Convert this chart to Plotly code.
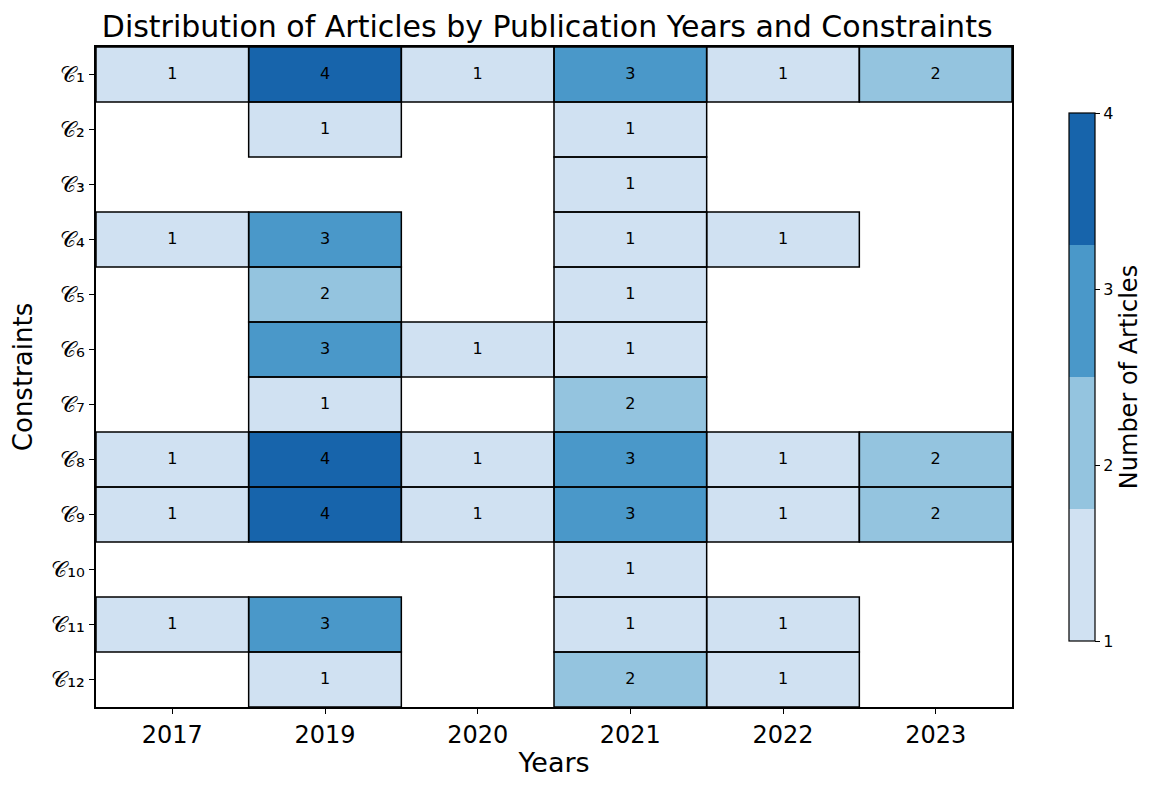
import plotly.graph_objects as go

years = ["2017", "2019", "2020", "2021", "2022", "2023"]
constraints = [f"C{i}" for i in range(1, 13)]
_sub = str.maketrans("0123456789", "₀₁₂₃₄₅₆₇₈₉")
constraint_labels = ["𝒞" + str(i).translate(_sub) for i in range(1, 13)]
counts = [
    [1, 4, 1, 3, 1, 2],
    [0, 1, 0, 1, 0, 0],
    [0, 0, 0, 1, 0, 0],
    [1, 3, 0, 1, 1, 0],
    [0, 2, 0, 1, 0, 0],
    [0, 3, 1, 1, 0, 0],
    [0, 1, 0, 2, 0, 0],
    [1, 4, 1, 3, 1, 2],
    [1, 4, 1, 3, 1, 2],
    [0, 0, 0, 1, 0, 0],
    [1, 3, 0, 1, 1, 0],
    [0, 1, 0, 2, 1, 0],
]
colors = ["#d0e1f2", "#94c4df", "#4a98c9", "#1764ab"]

z = [[v if v > 0 else None for v in row] for row in counts]

cs = []
n = len(colors)
for k, c in enumerate(colors):
    cs.append([k / n, c])
    cs.append([(k + 1) / n, c])

xi = list(range(len(years)))
yi = list(range(len(constraints)))

fig = go.Figure()
fig.add_trace(go.Heatmap(
    x=xi, y=yi, z=z,
    colorscale=cs, zmin=1, zmax=4, hoverongaps=False,
    colorbar=dict(
        x=1.051, xanchor="left", y=0.5, yanchor="middle", len=0.8, ypad=0,
        thickness=26, outlinecolor="black", outlinewidth=1.2,
        tickvals=[1, 2, 3, 4], ticks="outside", ticklen=5, tickcolor="black",
        tickfont=dict(size=16, color="black"),
        title=dict(text="Number of Articles", side="right",
                   font=dict(size=24, color="black")),
    ),
))

tx, ty, tt = [], [], []
shapes = []
for r, row in enumerate(counts):
    for c, v in enumerate(row):
        if v > 0:
            tx.append(c)
            ty.append(r)
            tt.append(str(v))
            shapes.append(dict(type="rect", xref="x", yref="y",
                               x0=c - 0.5, x1=c + 0.5, y0=r - 0.5, y1=r + 0.5,
                               line=dict(color="black", width=1.5)))

fig.add_trace(go.Scatter(
    x=tx, y=ty, text=tt, mode="text", showlegend=False, hoverinfo="skip",
    textposition="middle center",
    textfont=dict(size=16, color="black", family="DejaVu Sans"),
))

fig.update_layout(
    width=1162, height=790,
    margin=dict(l=88, r=158, t=39, b=91),
    paper_bgcolor="white", plot_bgcolor="white",
    font=dict(family="DejaVu Sans", color="black"),
    title=dict(text="Distribution of Articles by Publication Years and Constraints",
               x=0.464, xanchor="center", y=0.976, yanchor="middle",
               font=dict(size=30, color="black", family="DejaVu Sans")),
    shapes=shapes,
    showlegend=False,
    xaxis=dict(tickvals=xi, ticktext=years, range=[-0.5, len(years) - 0.5],
               showline=True, mirror=True, linecolor="black", linewidth=1.5,
               ticks="outside", ticklen=5, tickcolor="black",
               tickfont=dict(size=24), showgrid=False, zeroline=False,
               title=dict(text="Years", font=dict(size=27), standoff=6)),
    yaxis=dict(tickvals=yi, ticktext=constraint_labels,
               range=[len(constraints) - 0.5, -0.5],
               showline=True, mirror=True, linecolor="black", linewidth=1.5,
               ticks="outside", ticklen=5, tickcolor="black",
               tickfont=dict(size=22), showgrid=False, zeroline=False,
               title=dict(text="Constraints", font=dict(size=26), standoff=12)),
)

fig.write_html("out.html")
